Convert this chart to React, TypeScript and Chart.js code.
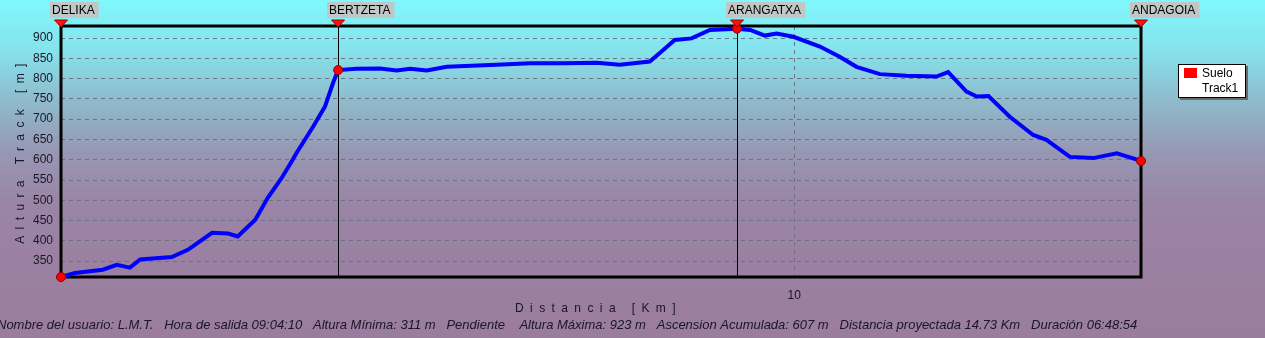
import React, { useEffect, useRef } from 'react';
import { Chart, registerables } from 'chart.js';

Chart.register(...registerables);

// ---- Data ----
const DIST_KM = [
  0, 0.19, 0.57, 0.76, 0.94, 1.08, 1.51, 1.73, 1.87, 2.06, 2.28, 2.41, 2.65, 2.82, 3.01, 3.16,
  3.21, 3.44, 3.6, 3.71, 3.78, 4.03, 4.35, 4.58, 4.76, 4.99, 5.26, 5.94, 6.4, 6.85, 7.31, 7.62,
  8.03, 8.21, 8.37, 8.6, 8.85, 9.22, 9.4, 9.6, 9.76, 9.99, 10.35, 10.62, 10.85, 11.17, 11.53,
  11.94, 12.1, 12.35, 12.49, 12.65, 12.94, 13.26, 13.44, 13.76, 14.08, 14.4, 14.73,
];
const ALT_M = [
  311, 321, 329, 341, 334, 354, 360, 378, 396, 420, 418, 411, 452, 506, 555, 600,
  616, 682, 731, 789, 821, 824, 825, 820, 824, 820, 829, 834, 838, 838, 839, 834,
  842, 870, 895, 899, 920, 923, 920, 906, 911, 903, 879, 854, 829, 811, 807,
  805, 816, 768, 756, 757, 706, 661, 649, 607, 604, 616, 597,
];
const WAYPOINT_NAMES = ['DELIKA', 'BERTZETA', 'ARANGATXA', 'ANDAGOIA'];
const WAYPOINT_KM = [0, 3.78, 9.22, 14.73];
const WAYPOINT_ALT = [311, 821, 923, 597];
const Y_TICKS = [350, 400, 450, 500, 550, 600, 650, 700, 750, 800, 850, 900];
const X_TICKS = [10];
const X_MIN = 0;
const X_MAX = 14.73;
const Y_MIN = 311;
const Y_MAX = 929.6;
const X_TITLE = 'Distancia [Km]';
const Y_TITLE = 'Altura Track [m]';
const LEGEND_LABELS = ['Suelo', 'Track1'];
const INFO_TEXT =
  'Nombre del usuario: L.M.T.   Hora de salida 09:04:10   Altura Mínima: 311 m   Pendiente    Altura Máxima: 923 m   Ascension Acumulada: 607 m   Distancia proyectada 14.73 Km   Duración 06:48:54';

const FONT = '"Liberation Sans", Arial, sans-serif';
const TEXT_COLOR = '#1a1626';

const decorPlugin = {
  id: 'decor',
  beforeDraw(chart: any) {
    const { ctx, width, height } = chart;
    ctx.save();
    const g = ctx.createLinearGradient(0, 0, 0, height);
    g.addColorStop(0, '#80F8FC');
    g.addColorStop(0.15, '#86E2EC');
    g.addColorStop(0.3, '#8FBACC');
    g.addColorStop(0.45, '#9797B3');
    g.addColorStop(0.6, '#9A85A6');
    g.addColorStop(1, '#9A7C9E');
    ctx.fillStyle = g;
    ctx.fillRect(0, 0, width, height);
    ctx.restore();
  },
  beforeDatasetsDraw(chart: any) {
    const { ctx, chartArea: a, scales } = chart;
    const x = scales.x;
    ctx.save();
    ctx.strokeStyle = '#000';
    ctx.lineWidth = 1;
    WAYPOINT_KM.forEach((km) => {
      const px = Math.round(x.getPixelForValue(km)) + 0.5;
      ctx.beginPath();
      ctx.moveTo(px, a.top);
      ctx.lineTo(px, a.bottom);
      ctx.stroke();
    });
    ctx.lineWidth = 3;
    ctx.strokeRect(a.left, a.top, a.right - a.left, a.bottom - a.top);
    ctx.restore();
  },
  afterDraw(chart: any) {
    const { ctx, chartArea: a, scales } = chart;
    const x = scales.x;
    ctx.save();
    // waypoint triangles and labels
    ctx.font = `12px ${FONT}`;
    ctx.textBaseline = 'middle';
    WAYPOINT_KM.forEach((km, i) => {
      const px = Math.round(x.getPixelForValue(km));
      ctx.beginPath();
      ctx.moveTo(px - 6.5, a.top - 6);
      ctx.lineTo(px + 6.5, a.top - 6);
      ctx.lineTo(px, a.top + 1);
      ctx.closePath();
      ctx.fillStyle = '#FF1010';
      ctx.fill();
      ctx.strokeStyle = '#A00000';
      ctx.lineWidth = 1;
      ctx.stroke();
      const name = WAYPOINT_NAMES[i];
      const w = ctx.measureText(name).width;
      ctx.fillStyle = 'rgba(196,196,196,0.95)';
      ctx.fillRect(px - 11, 2, w + 6, 16);
      ctx.fillStyle = '#000';
      ctx.textAlign = 'left';
      ctx.fillText(name, px - 9, 10.5);
    });

    // axis titles
    ctx.fillStyle = TEXT_COLOR;
    ctx.font = `12px ${FONT}`;
    (ctx as any).letterSpacing = '6.4px';
    ctx.textAlign = 'left';
    ctx.textBaseline = 'middle';
    ctx.fillText(X_TITLE, 515, 309);
    ctx.save();
    ctx.translate(21, (a.top + a.bottom) / 2 + 2);
    ctx.rotate(-Math.PI / 2);
    const ytW = ctx.measureText(Y_TITLE).width;
    ctx.fillText(Y_TITLE, -ytW / 2 + 3, 0);
    ctx.restore();
    (ctx as any).letterSpacing = '0px';

    // info text
    ctx.font = `italic 13px ${FONT}`;
    ctx.fillStyle = TEXT_COLOR;
    ctx.textAlign = 'left';
    ctx.fillText(INFO_TEXT, -3, 325);

    // legend
    const lx = 1178, ly = 64, lw = 68, lh = 34;
    ctx.fillStyle = '#6a6a6a';
    ctx.fillRect(lx + 2, ly + 2, lw, lh);
    ctx.fillStyle = '#ffffff';
    ctx.fillRect(lx, ly, lw, lh);
    ctx.strokeStyle = '#000';
    ctx.lineWidth = 1;
    ctx.strokeRect(lx + 0.5, ly + 0.5, lw - 1, lh - 1);
    ctx.fillStyle = '#FF0000';
    ctx.fillRect(lx + 6, ly + 4, 13, 10);
    ctx.fillStyle = '#000';
    ctx.font = `12px ${FONT}`;
    ctx.fillText(LEGEND_LABELS[0], lx + 24, ly + 9.5);
    ctx.fillText(LEGEND_LABELS[1], lx + 24, ly + 24.5);
    ctx.restore();
  },
};

export default function App() {
  const canvasRef = useRef<HTMLCanvasElement | null>(null);

  useEffect(() => {
    document.body.style.margin = '0';
    const canvas = canvasRef.current;
    if (!canvas) return;
    const chart = new Chart(canvas, {
      type: 'line',
      data: {
        datasets: [
          {
            label: LEGEND_LABELS[1],
            data: DIST_KM.map((d, i) => ({ x: d, y: ALT_M[i] })),
            borderColor: '#0000FF',
            borderWidth: 4,
            pointRadius: 0,
            tension: 0,
            fill: false,
            clip: false as any,
            order: 2,
          },
          {
            label: LEGEND_LABELS[0],
            data: WAYPOINT_KM.map((d, i) => ({ x: d, y: WAYPOINT_ALT[i] })),
            showLine: false,
            pointRadius: 4.5,
            pointBackgroundColor: '#FF0000',
            pointBorderColor: '#900000',
            pointBorderWidth: 1,
            clip: false as any,
            order: 1,
          },
        ],
      },
      options: {
        animation: false,
        responsive: false,
        devicePixelRatio: 1,
        layout: { padding: { left: 0, right: 124, top: 26, bottom: 0 } },
        plugins: {
          legend: { display: false },
          tooltip: { enabled: false },
        },
        scales: {
          x: {
            type: 'linear',
            min: X_MIN,
            max: X_MAX,
            afterFit: (s: any) => {
              s.height = 61;
            },
            afterBuildTicks: (s: any) => {
              s.ticks = X_TICKS.map((v) => ({ value: v }));
            },
            grid: { color: '#6a7480', lineWidth: 1, drawTicks: false },
            border: { display: false, dash: [4, 4] },
            ticks: {
              padding: 11,
              color: TEXT_COLOR,
              font: { family: FONT, size: 12 },
              maxRotation: 0,
              callback: (v: any) => String(v),
            },
          },
          y: {
            type: 'linear',
            min: Y_MIN,
            max: Y_MAX,
            afterFit: (s: any) => {
              s.width = 61;
            },
            afterBuildTicks: (s: any) => {
              s.ticks = Y_TICKS.map((v) => ({ value: v }));
            },
            grid: { color: '#6a7480', lineWidth: 1, drawTicks: false },
            border: { display: false, dash: [4, 4] },
            ticks: {
              padding: 8,
              color: TEXT_COLOR,
              font: { family: FONT, size: 12 },
              callback: (v: any) => String(v),
            },
          },
        },
      },
      plugins: [decorPlugin],
    });
    return () => chart.destroy();
  }, []);

  return (
    <div style={{ position: 'absolute', left: 0, top: 0, width: 1265, height: 338 }}>
      <canvas ref={canvasRef} width={1265} height={338} style={{ display: 'block' }} />
    </div>
  );
}
